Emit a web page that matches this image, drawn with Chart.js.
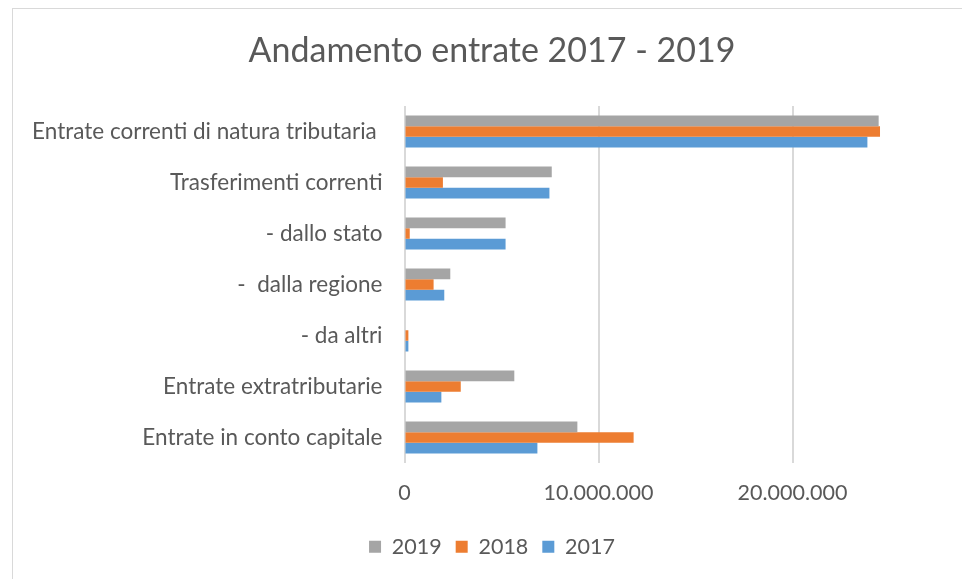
<!DOCTYPE html>
<html>
<head>
<meta charset="utf-8">
<script src="https://cdn.jsdelivr.net/npm/chart.js@4.4.1/dist/chart.umd.min.js"></script>
<style>
  html, body { margin: 0; padding: 0; background: #fff; overflow: hidden; }
  #wrap { position: absolute; left: 12px; top: 8px; width: 958px; height: 600px; border: 1px solid #d9d9d9; }
</style>
</head>
<body>
<div id="wrap"><canvas id="myChart" width="958" height="600"></canvas></div>
<script>
// dati del grafico
var categorie = ['Entrate correnti di natura tributaria ', 'Trasferimenti correnti', '- dallo stato', '-  dalla regione', '- da altri', 'Entrate extratributarie', 'Entrate in conto capitale'];
var anni = ['2019', '2018', '2017'];
var valori2019 = [24440000, 7590000, 5210000, 2360000, 0, 5660000, 8910000];
var valori2018 = [24510000, 1980000, 270000, 1500000, 200000, 2900000, 11810000];
var valori2017 = [23860000, 7470000, 5210000, 2050000, 200000, 1900000, 6850000];
var tickValori = [0, 10000000, 20000000];

var grigio = '#595959';
var fontBase = 'Lato';

function formatta(v) {
    // separatore delle migliaia all'italiana
    return String(v).replace(/\B(?=(\d{3})+(?!\d))/g, '.');
}

var ctx = document.getElementById('myChart').getContext('2d');
var myChart = new Chart(ctx, {
    type: 'bar',
    data: {
        labels: categorie,
        datasets: [
            { label: anni[0], data: valori2019, backgroundColor: '#a5a5a5' },
            { label: anni[1], data: valori2018, backgroundColor: '#ed7d31' },
            { label: anni[2], data: valori2017, backgroundColor: '#5b9bd5' }
        ]
    },
    options: {
        indexAxis: 'y',
        responsive: false,
        animation: false,
        barPercentage: 1,
        categoryPercentage: 0.63,
        layout: { padding: { left: 0, right: 0, top: 0, bottom: 41.4 } },
        plugins: {
            title: {
                display: true,
                text: 'Andamento entrate 2017 - 2019',
                color: grigio,
                font: { family: fontBase, size: 34, weight: 'normal' },
                padding: { top: 21.6, bottom: 34.6 }
            },
            legend: {
                position: 'bottom',
                labels: {
                    color: grigio,
                    font: { family: fontBase, size: 21.5 },
                    boxWidth: 12,
                    boxHeight: 12,
                    padding: 14
                }
            },
            tooltip: { enabled: false }
        },
        scales: {
            x: {
                min: 0,
                max: 29200000,
                afterBuildTicks: function (scale) {
                    scale.ticks = tickValori.map(function (v) { return { value: v }; });
                },
                afterFit: function (scale) { scale.height = 59.1; },
                grid: { color: '#d9d9d9', lineWidth: 2, drawTicks: false },
                border: { display: false },
                ticks: {
                    color: grigio,
                    font: { family: fontBase, size: 21.5 },
                    padding: 17,
                    maxRotation: 0,
                    callback: function (v) { return formatta(v); }
                }
            },
            y: {
                afterFit: function (scale) { scale.width = 391.5; },
                grid: { display: false, drawTicks: false },
                border: { display: false },
                ticks: {
                    color: grigio,
                    font: { family: fontBase, size: 22.5 },
                    padding: 22,
                    autoSkip: false
                }
            }
        }
    }
});
</script>
</body>
</html>
